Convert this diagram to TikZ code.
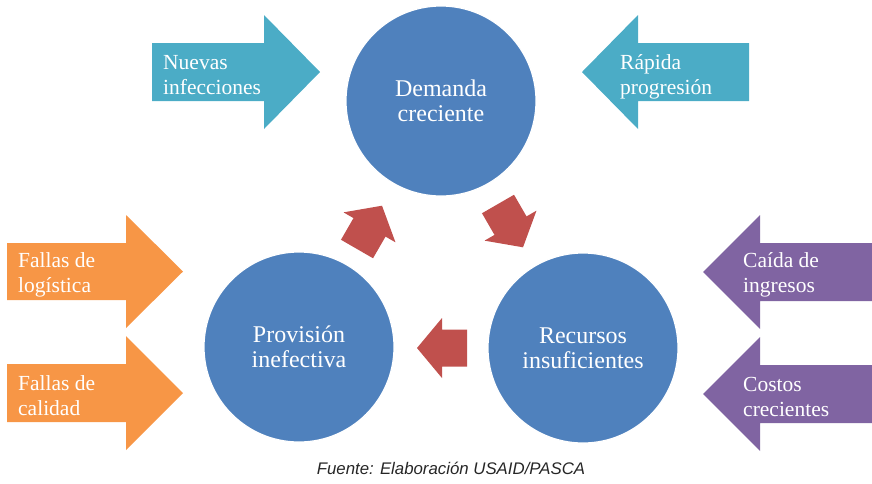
\documentclass[tikz,border=0pt]{standalone}
\usepackage{fontspec}
\setmainfont{Liberation Serif}
\newfontfamily\capfont{Liberation Sans}
\definecolor{cblue}{HTML}{4F81BD}
\definecolor{cteal}{HTML}{4BACC6}
\definecolor{corange}{HTML}{F79646}
\definecolor{cpurple}{HTML}{8064A2}
\definecolor{cred}{HTML}{C0504D}
\newcommand{\leftlines}[2]{\vtop{\baselineskip=25pt\hbox{#1}\hbox{#2}}}
\newcommand{\ctrlines}[2]{\vtop{\baselineskip=25pt\halign{\hfil##\hfil\cr #1\cr #2\cr}}}
\tikzset{
  circ/.style={circle, fill=cblue, draw=white, line width=1.2pt, minimum size=190pt, inner sep=0pt,
    text=white, font=\fontsize{24}{25}\selectfont},
  lbl/.style={inner sep=0pt, anchor=base west, text=white, font=\fontsize{21.5}{25}\selectfont},
  redarrow/.pic={\fill[cred] (0,-18.5) -- (25,-18.5) -- (25,-30) -- (50,0) -- (25,30) -- (25,18.5) -- (0,18.5) -- cycle;}
}
\begin{document}
\begin{tikzpicture}[x=1pt,y=-1pt]
\useasboundingbox (0,0) rectangle (872,483);
% side arrows
\fill[cteal] (152,43) -- (264,43) -- (264,15) -- (320,72) -- (264,129) -- (264,101) -- (152,101) -- cycle;
\fill[cteal] (749,43) -- (638,43) -- (638,15) -- (582,72) -- (638,129) -- (638,101) -- (749,101) -- cycle;
\fill[corange] (7,243) -- (126,243) -- (126,215) -- (183,271.5) -- (126,328) -- (126,300) -- (7,300) -- cycle;
\fill[corange] (7,364) -- (126,364) -- (126,336) -- (183,393) -- (126,450) -- (126,422) -- (7,422) -- cycle;
\fill[cpurple] (872,243) -- (760,243) -- (760,215) -- (703,272) -- (760,329) -- (760,301) -- (872,301) -- cycle;
\fill[cpurple] (872,365) -- (760,365) -- (760,337) -- (703,394) -- (760,451) -- (760,423) -- (872,423) -- cycle;
\node[lbl] (nuevas) at (163,69) {\leftlines{Nuevas}{infecciones}};
\node[lbl] (rapida) at (620,69) {\leftlines{Rápida}{progresión}};
\node[lbl] (logis) at (18,267) {\leftlines{Fallas de}{logística}};
\node[lbl] (calid) at (18,390) {\leftlines{Fallas de}{calidad}};
\node[lbl] (caida) at (743,267) {\leftlines{Caída de}{ingresos}};
\node[lbl] (costos) at (743,391) {\leftlines{Costos}{crecientes}};
% circles
\node[circ] (dem) at (441,101) {\ctrlines{Demanda}{creciente}};
\node[circ] (prov) at (299,347) {\ctrlines{Provisión}{inefectiva}};
\node[circ] (rec) at (583,348) {\ctrlines{Recursos}{insuficientes}};
% cycle arrows
\path (357,249) pic[rotate=60] {redarrow};
\path (498,204) pic[rotate=-60] {redarrow};
\path (467,348) pic[rotate=180] {redarrow};
% caption
\node[anchor=base, inner sep=0pt, text=black!85, font=\capfont\itshape\fontsize{16.8}{18}\selectfont] (cap) at (451,474) {Fuente: Elaboración USAID/PASCA};
\end{tikzpicture}
\end{document}
